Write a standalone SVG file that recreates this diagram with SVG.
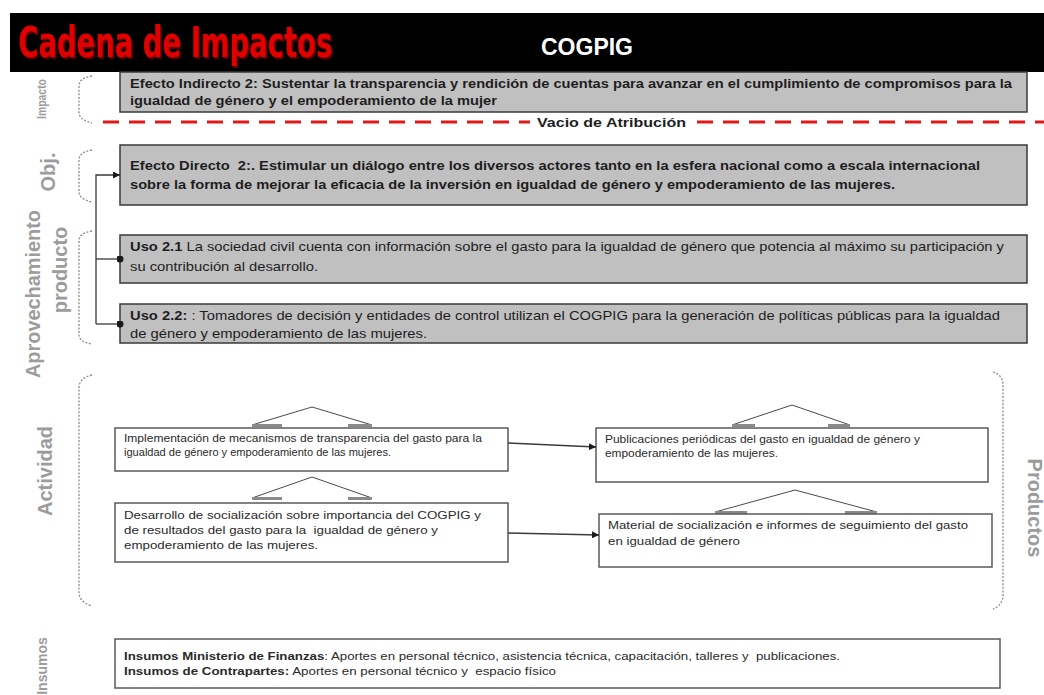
<svg xmlns="http://www.w3.org/2000/svg" width="1044" height="695" viewBox="0 0 1044 695">
<style>
.gbox{fill:#c0c0c0;stroke:#3a3a3a;stroke-width:1.5}
.wbox{fill:#ffffff;stroke:#5a5a5a;stroke-width:1.5}
.bt{font-family:"Liberation Sans",Arial,sans-serif;font-size:13px;font-weight:bold;fill:#1e1e1e}
.rt{font-family:"Liberation Sans",Arial,sans-serif;font-size:13px;fill:#1e1e1e}
.st{font-family:"Liberation Sans",Arial,sans-serif;font-size:11px;fill:#2a2a2a}
.lab{font-family:"Liberation Sans",Arial,sans-serif;font-weight:bold;fill:#9c9c9c;text-anchor:middle}
.brk{fill:none;stroke:#8a8a8a;stroke-width:1.3;stroke-dasharray:2 1.6}
.conn{fill:none;stroke:#3a3a3a;stroke-width:1.3}
.chev{fill:none;stroke:#4a4a4a;stroke-width:1}
.bar{stroke:#8a8a8a;stroke-width:3}
.red{stroke:#e01818;stroke-width:3;stroke-dasharray:16 10}
</style>
<defs>
<marker id="arr" viewBox="0 0 10 10" refX="10" refY="5" markerWidth="7" markerHeight="7" orient="auto" markerUnits="userSpaceOnUse">
<path d="M0,0 L10,5 L0,10 z" fill="#1a1a1a"/>
</marker>
<marker id="dot" viewBox="0 0 10 10" refX="5" refY="5" markerWidth="7" markerHeight="7" markerUnits="userSpaceOnUse">
<circle cx="5" cy="5" r="5" fill="#1a1a1a"/>
</marker>
</defs>
<rect width="1044" height="695" fill="#ffffff"/>

<g id="header">
<rect x="10" y="13" width="1034" height="59" fill="#000000"/>
<text x="19.5" y="58.5" font-family="'DejaVu Sans',sans-serif" font-weight="bold" font-size="42" textLength="314" lengthAdjust="spacingAndGlyphs" fill="#5a0000">Cadena de Impactos</text>
<text x="18" y="57" font-family="'DejaVu Sans',sans-serif" font-weight="bold" font-size="42" textLength="314" lengthAdjust="spacingAndGlyphs" fill="#e00000">Cadena de Impactos</text>
<text x="541" y="55" font-family="'Liberation Sans',Arial,sans-serif" font-weight="bold" font-size="23" fill="#ffffff">COGPIG</text>
</g>

<g id="labels">
<text class="lab" transform="translate(46,99) rotate(-90)" font-size="12" font-weight="normal" textLength="40" lengthAdjust="spacingAndGlyphs">Impacto</text>
<text class="lab" transform="translate(55,172) rotate(-90)" font-size="20">Obj.</text>
<text class="lab" transform="translate(40,294) rotate(-90)" font-size="20" textLength="168" lengthAdjust="spacingAndGlyphs">Aprovechamiento</text>
<text class="lab" transform="translate(67,270) rotate(-90)" font-size="20">producto</text>
<text class="lab" transform="translate(52,471) rotate(-90)" font-size="20">Actividad</text>
<text class="lab" transform="translate(1028,508) rotate(90)" font-size="20">Productos</text>
<text class="lab" transform="translate(47,666) rotate(-90)" font-size="14" font-weight="normal">Insumos</text>
</g>

<g id="brackets">
<path class="brk" d="M92,76 Q79,78 79,86 L79,112 Q79,120 92,123"/>
<path class="brk" d="M92,150 Q79,152 79,160 L79,192 Q79,199 92,202"/>
<path class="brk" d="M92,231 Q79,233 79,241 L79,335 Q79,342 92,344"/>
<path class="brk" d="M92,375 Q79,378 79,388 L79,592 Q79,602 92,606"/>
<path class="brk" d="M993,372 Q1003,375 1003,385 L1003,595 Q1003,605 993,609"/>
</g>

<g id="impacto">
<rect class="gbox" x="120" y="72" width="907" height="40"/>
<text class="bt" x="130" y="88" textLength="882" lengthAdjust="spacingAndGlyphs">Efecto Indirecto 2: Sustentar la transparencia y rendición de cuentas para avanzar en el cumplimiento de compromisos para la</text>
<text class="bt" x="130" y="105" textLength="367" lengthAdjust="spacingAndGlyphs">igualdad de género y el empoderamiento de la mujer</text>
</g>

<g id="vacio">
<line class="red" x1="103" y1="122" x2="530" y2="122"/>
<text class="bt" x="537" y="127" font-size="14" textLength="149" lengthAdjust="spacingAndGlyphs">Vacio de Atribución</text>
<line class="red" x1="697" y1="122" x2="1044" y2="122"/>
</g>

<g id="efecto-directo">
<rect class="gbox" x="120" y="145" width="907" height="60"/>
<text class="bt" x="130" y="170" textLength="850" lengthAdjust="spacingAndGlyphs">Efecto Directo &#160;2:. Estimular un diálogo entre los diversos actores tanto en la esfera nacional como a escala internacional</text>
<text class="bt" x="130" y="189" textLength="765" lengthAdjust="spacingAndGlyphs">sobre la forma de mejorar la eficacia de la inversión en igualdad de género y empoderamiento de las mujeres.</text>
</g>

<g id="uso-2-1">
<rect class="gbox" x="120" y="235" width="907" height="48"/>
<text class="rt" x="130" y="251" textLength="874" lengthAdjust="spacingAndGlyphs"><tspan font-weight="bold">Uso 2.1</tspan> La sociedad civil cuenta con información sobre el gasto para la igualdad de género que potencia al máximo su participación y</text>
<text class="rt" x="130" y="271" textLength="188" lengthAdjust="spacingAndGlyphs">su contribución al desarrollo.</text>
</g>

<g id="uso-2-2">
<rect class="gbox" x="120" y="304" width="907" height="39"/>
<text class="rt" x="130" y="320" textLength="870" lengthAdjust="spacingAndGlyphs"><tspan font-weight="bold">Uso 2.2:</tspan> : Tomadores de decisión y entidades de control utilizan el COGPIG para la generación de políticas públicas para la igualdad</text>
<text class="rt" x="130" y="338" textLength="297" lengthAdjust="spacingAndGlyphs">de género y empoderamiento de las mujeres.</text>
</g>

<g id="act-1">
<path class="chev" d="M252,425 L312,407 L372,425"/>
<line class="bar" x1="252" y1="425.5" x2="282" y2="425.5"/>
<line class="bar" x1="348" y1="425.5" x2="372" y2="425.5"/>
<rect class="wbox" x="115" y="428" width="393" height="43"/>
<text class="st" x="124" y="442" font-size="10.5" textLength="358" lengthAdjust="spacingAndGlyphs">Implementación de mecanismos de transparencia del gasto para la</text>
<text class="st" x="124" y="456" font-size="10.5" textLength="267" lengthAdjust="spacingAndGlyphs">igualdad de género y empoderamiento de las mujeres.</text>
</g>

<g id="act-2">
<path class="chev" d="M252,498 L312,477 L372,498"/>
<line class="bar" x1="252" y1="498.5" x2="282" y2="498.5"/>
<line class="bar" x1="348" y1="498.5" x2="372" y2="498.5"/>
<rect class="wbox" x="115" y="503" width="393" height="59"/>
<text class="st" x="124" y="519" textLength="357" lengthAdjust="spacingAndGlyphs">Desarrollo de socialización sobre importancia del COGPIG y</text>
<text class="st" x="124" y="534" textLength="314" lengthAdjust="spacingAndGlyphs">de resultados del gasto para la &#160;igualdad de género y</text>
<text class="st" x="124" y="549" textLength="194" lengthAdjust="spacingAndGlyphs">empoderamiento de las mujeres.</text>
</g>

<g id="prod-1">
<path class="chev" d="M732,425 L792,405 L850,425"/>
<line class="bar" x1="732" y1="425.5" x2="755" y2="425.5"/>
<line class="bar" x1="828" y1="425.5" x2="850" y2="425.5"/>
<rect class="wbox" x="596" y="428" width="392" height="54"/>
<text class="st" x="605" y="443" font-size="10.5" textLength="315" lengthAdjust="spacingAndGlyphs">Publicaciones periódicas del gasto en igualdad de género y</text>
<text class="st" x="605" y="457" font-size="10.5" textLength="173" lengthAdjust="spacingAndGlyphs">empoderamiento de las mujeres.</text>
</g>

<g id="prod-2">
<path class="chev" d="M715,512 L795,490 L877,512"/>
<line class="bar" x1="715" y1="512.5" x2="747" y2="512.5"/>
<line class="bar" x1="845" y1="512.5" x2="877" y2="512.5"/>
<rect class="wbox" x="599" y="514" width="393" height="53"/>
<text class="st" x="608" y="529" textLength="360" lengthAdjust="spacingAndGlyphs">Material de socialización e informes de seguimiento del gasto</text>
<text class="st" x="608" y="545" textLength="132" lengthAdjust="spacingAndGlyphs">en igualdad de género</text>
</g>

<g id="insumos">
<rect class="wbox" x="115" y="639" width="885" height="49"/>
<text class="st" x="124" y="660" font-size="10.5" textLength="716" lengthAdjust="spacingAndGlyphs"><tspan font-weight="bold">Insumos Ministerio de Finanzas</tspan>: Aportes en personal técnico, asistencia técnica, capacitación, talleres y &#160;publicaciones.</text>
<text class="st" x="124" y="675" font-size="10.5" textLength="432" lengthAdjust="spacingAndGlyphs"><tspan font-weight="bold">Insumos de Contrapartes:</tspan> Aportes en personal técnico y &#160;espacio físico</text>
</g>

<g id="connectors">
<path class="conn" d="M96,324 L96,175 L120,175" marker-end="url(#arr)"/>
<path class="conn" d="M96,259 L120,259" marker-end="url(#dot)"/>
<path class="conn" d="M96,324 L120,324" marker-end="url(#dot)"/>
<path class="conn" d="M508,443 L596,447" marker-end="url(#arr)"/>
<path class="conn" d="M508,533 L599,535" marker-end="url(#arr)"/>
</g>
</svg>
